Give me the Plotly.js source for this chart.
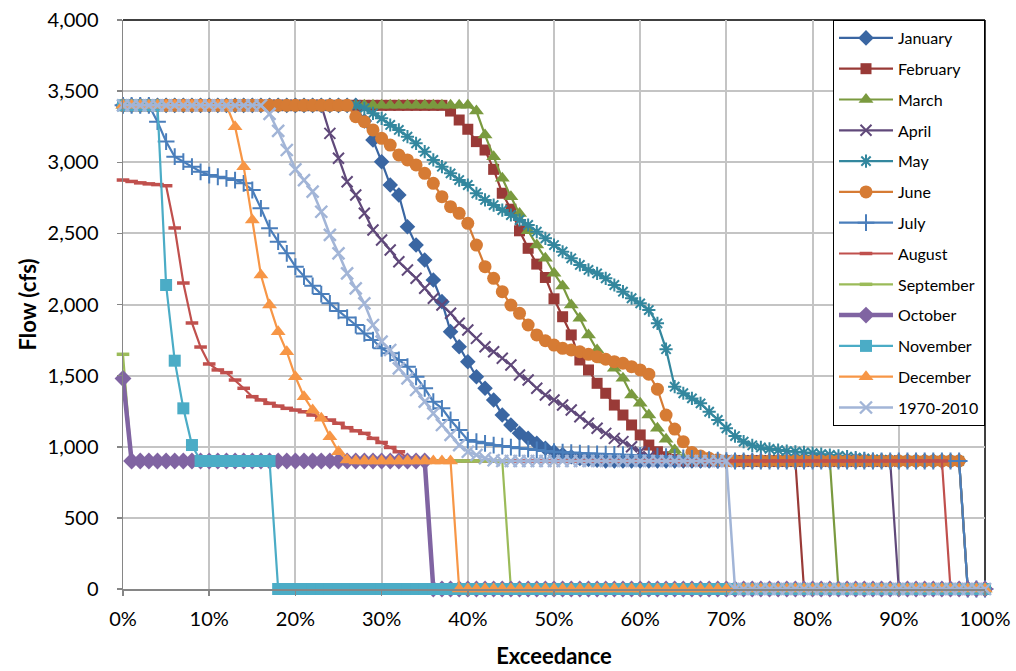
<!DOCTYPE html>
<html><head><meta charset="utf-8">
<script src="https://cdn.plot.ly/plotly-3.0.1.min.js"></script>
<style>html,body{margin:0;padding:0;background:#fff;}#chart{width:1016px;height:671px;}</style>
</head><body><div id="chart"></div>
<script>
// Exceedance (%) of each ranked point
const EXCEEDANCE = [0,1,2,3,4,5,6,7,8,9,10,11,12,13,14,15,16,17,18,19,20,21,22,23,24,25,26,27,28,29,30,31,32,33,34,35,36,37,38,39,40,41,42,43,44,45,46,47,48,49,50,51,52,53,54,55,56,57,58,59,60,61,62,63,64,65,66,67,68,69,70,71,72,73,74,75,76,77,78,79,80,81,82,83,84,85,86,87,88,89,90,91,92,93,94,95,96,97,98,99,100];

const JANUARY = [
3400,3400,3400,3400,3400,3400,3400,3400,3400,3400,
3400,3400,3400,3400,3400,3400,3400,3400,3400,3400,
3400,3400,3400,3400,3400,3400,3400,3400,3290,3156,
3004,2840,2770,2547,2418,2313,2172,2020,1809,1703,
1598,1492,1411,1329,1223,1153,1095,1059,1024,989,
965,945,930,918,910,905,900,900,900,900,
900,900,900,900,900,900,900,900,900,900,
900,900,900,900,900,900,900,900,900,900,
900,900,900,900,900,900,900,900,900,900,
900,900,900,900,900,900,900,900,0,0,
0];
const FEBRUARY = [
3400,3400,3400,3400,3400,3400,3400,3400,3400,3400,
3400,3400,3400,3400,3400,3400,3400,3400,3400,3400,
3400,3400,3400,3400,3400,3400,3400,3400,3400,3400,
3400,3400,3400,3400,3400,3400,3400,3400,3360,3297,
3232,3145,3086,2950,2782,2670,2518,2395,2284,2190,
2040,1914,1786,1610,1540,1446,1376,1293,1223,1153,
1083,1012,965,930,910,900,900,900,900,900,
900,900,900,900,900,900,900,900,900,0,
0,0,0,0,0,0,0,0,0,0,
0,0,0,0,0,0,0,0,0,0,
0];
const MARCH = [
3400,3400,3400,3400,3400,3400,3400,3400,3400,3400,
3400,3400,3400,3400,3400,3400,3400,3400,3400,3400,
3400,3400,3400,3400,3400,3400,3400,3400,3400,3400,
3400,3400,3400,3400,3400,3400,3400,3400,3400,3400,
3400,3360,3191,3039,2887,2758,2640,2518,2418,2325,
2220,2130,1996,1903,1786,1680,1610,1551,1481,1364,
1305,1223,1130,1053,977,919,900,900,900,900,
900,900,900,900,900,900,900,900,900,900,
900,900,900,0,0,0,0,0,0,0,
0,0,0,0,0,0,0,0,0,0,
0];
const APRIL = [
3400,3400,3400,3400,3400,3400,3400,3400,3400,3400,
3400,3400,3400,3400,3400,3400,3400,3400,3400,3400,
3400,3400,3400,3400,3203,3028,2863,2770,2641,2524,
2453,2383,2301,2243,2184,2114,2044,1996,1938,1868,
1821,1762,1703,1668,1622,1575,1504,1469,1411,1364,
1329,1293,1258,1211,1165,1130,1094,1059,1036,1000,
965,930,900,900,900,900,900,900,900,900,
900,900,900,900,900,900,900,900,900,900,
900,900,900,900,900,900,900,900,900,900,
0,0,0,0,0,0,0,0,0,0,
0];
const MAY = [
3400,3400,3400,3400,3400,3400,3400,3400,3400,3400,
3400,3400,3400,3400,3400,3400,3400,3400,3400,3400,
3400,3400,3400,3400,3400,3400,3400,3400,3379,3344,
3309,3262,3227,3180,3133,3074,3016,2969,2922,2875,
2840,2782,2735,2699,2664,2629,2594,2559,2512,2465,
2418,2371,2325,2278,2243,2219,2184,2137,2090,2044,
2008,1961,1868,1686,1422,1376,1340,1305,1246,1188,
1130,1075,1036,1010,995,985,977,970,965,960,
955,948,942,936,930,924,918,912,907,903,
900,900,900,900,900,900,900,900,0,0,
0];
const JUNE = [
3400,3400,3400,3400,3400,3400,3400,3400,3400,3400,
3400,3400,3400,3400,3400,3400,3400,3400,3400,3400,
3400,3400,3400,3400,3400,3400,3400,3320,3285,3227,
3168,3121,3051,3016,2981,2922,2852,2758,2688,2641,
2571,2418,2266,2184,2090,1996,1938,1856,1786,1745,
1715,1692,1680,1668,1650,1633,1615,1598,1587,1563,
1540,1510,1405,1223,1124,1036,960,935,919,908,
900,900,900,900,900,900,900,900,900,900,
900,900,900,900,900,900,900,900,900,900,
900,900,900,900,900,900,900,900,0,0,
0];
const JULY = [
3400,3400,3400,3400,3285,3145,3039,3004,2969,2933,
2910,2898,2887,2875,2852,2805,2676,2536,2442,2360,
2266,2196,2131,2073,2008,1955,1908,1856,1797,1750,
1692,1657,1610,1563,1492,1411,1317,1270,1188,1118,
1047,1036,1024,1012,1005,998,989,984,977,970,
965,962,958,955,952,950,948,946,944,942,
940,937,934,930,926,922,918,914,910,906,
903,900,900,900,900,900,900,900,900,900,
900,900,900,900,900,900,900,900,900,900,
900,900,900,900,900,900,900,900,0,0,
0];
const AUGUST = [
2875,2865,2855,2848,2843,2835,2538,2151,1870,1701,
1582,1540,1521,1469,1411,1352,1329,1305,1286,1270,
1258,1246,1223,1204,1188,1165,1134,1112,1094,1059,
1030,995,965,920,900,900,900,900,900,900,
900,900,900,900,900,900,900,900,900,900,
900,900,900,900,900,900,900,900,900,900,
900,900,900,900,900,900,900,900,900,900,
900,900,900,900,900,900,900,900,900,900,
900,900,900,900,900,900,900,900,900,900,
900,900,900,900,900,900,0,0,0,0,
0];
const SEPTEMBER = [
1650,900,900,900,900,900,900,900,900,900,
900,900,900,900,900,900,900,900,900,900,
900,900,900,900,900,900,900,900,900,900,
900,900,900,900,900,900,900,900,900,900,
900,900,900,900,900,0,0,0,0,0,
0,0,0,0,0,0,0,0,0,0,
0,0,0,0,0,0,0,0,0,0,
0,0,0,0,0,0,0,0,0,0,
0,0,0,0,0,0,0,0,0,0,
0,0,0,0,0,0,0,0,0,0,
0];
const OCTOBER = [
1480,900,900,900,900,900,900,900,900,900,
900,900,900,900,900,900,900,900,900,900,
900,900,900,900,900,900,900,900,900,900,
900,900,900,900,900,900,0,0,0,0,
0,0,0,0,0,0,0,0,0,0,
0,0,0,0,0,0,0,0,0,0,
0,0,0,0,0,0,0,0,0,0,
0,0,0,0,0,0,0,0,0,0,
0,0,0,0,0,0,0,0,0,0,
0,0,0,0,0,0,0,0,0,0,
0];
const NOVEMBER = [
3400,3400,3400,3400,3400,2137,1605,1270,1012,900,
900,900,900,900,900,900,900,900,0,0,
0,0,0,0,0,0,0,0,0,0,
0,0,0,0,0,0,0,0,0,0,
0,0,0,0,0,0,0,0,0,0,
0,0,0,0,0,0,0,0,0,0,
0,0,0,0,0,0,0,0,0,0,
0,0,0,0,0,0,0,0,0,0,
0,0,0,0,0,0,0,0,0,0,
0,0,0,0,0,0,0,0,0,0,
0];
const DECEMBER = [
3400,3400,3400,3400,3400,3400,3400,3400,3400,3400,
3400,3400,3400,3250,2969,2594,2207,1996,1809,1668,
1492,1352,1258,1200,1071,965,907,900,900,900,
900,900,900,900,900,900,900,900,900,0,
0,0,0,0,0,0,0,0,0,0,
0,0,0,0,0,0,0,0,0,0,
0,0,0,0,0,0,0,0,0,0,
0,0,0,0,0,0,0,0,0,0,
0,0,0,0,0,0,0,0,0,0,
0,0,0,0,0,0,0,0,0,0,
0];
const PERIOD_1970_2010 = [
3400,3400,3400,3400,3400,3400,3400,3400,3400,3400,
3400,3400,3400,3400,3400,3400,3400,3340,3220,3086,
2950,2875,2793,2652,2489,2360,2219,2114,2008,1856,
1739,1680,1551,1481,1399,1317,1235,1153,1083,1012,
965,942,919,905,900,900,900,900,900,900,
900,900,900,900,900,900,900,900,900,900,
900,900,900,900,900,900,900,900,900,900,
900,0,0,0,0,0,0,0,0,0,
0,0,0,0,0,0,0,0,0,0,
0,0,0,0,0,0,0,0,0,0,
0];

const SERIES_NAMES = ['January','February','March','April','May','June','July','August','September','October','November','December','1970-2010'];
const SERIES_VALUES = [JANUARY,FEBRUARY,MARCH,APRIL,MAY,JUNE,JULY,AUGUST,SEPTEMBER,OCTOBER,NOVEMBER,DECEMBER,PERIOD_1970_2010];

const STYLE = [
  {color:'#3A66A2', symbol:'diamond', size:12, width:2.2},
  {color:'#993A37', symbol:'square', size:11, width:2.2},
  {color:'#7A9A3F', symbol:'triangle-up', size:13, width:2.2},
  {color:'#60497A', symbol:'x-thin-open', size:11, width:2.2, mlw:2},
  {color:'#33879E', symbol:'asterisk-open', size:11, width:2.2, mlw:2},
  {color:'#D67B34', symbol:'circle', size:13, width:2.2},
  {color:'#4A7EBB', symbol:'cross-thin-open', size:12, width:2.2, mlw:2},
  {color:'#C0504D', symbol:'line-ew-open', size:9, width:2.2, mlw:3.5},
  {color:'#9BBB59', symbol:'line-ew-open', size:9, width:2.2, mlw:3.5},
  {color:'#8064A2', symbol:'diamond', size:13, width:4.5},
  {color:'#4BACC6', symbol:'square', size:12, width:2.2},
  {color:'#F79646', symbol:'triangle-up', size:13, width:2.2},
  {color:'#A2B5D7', symbol:'x-thin-open', size:12, width:2.5, mlw:2.4}
];

SERIES_VALUES.forEach((v,i)=>{ if(v.length!==EXCEEDANCE.length) console.error(SERIES_NAMES[i]+' length '+v.length); });

const traces = SERIES_NAMES.map((name,i)=>{
  const s = STYLE[i];
  return {
    type:'scatter', mode:'lines+markers', name:name, legendgroup:name,
    x:EXCEEDANCE, y:SERIES_VALUES[i], cliponaxis:false,
    line:{color:s.color, width:s.width},
    marker:{symbol:s.symbol, size:s.size, color:s.color,
            line:{color:s.color, width:(s.mlw||0)}}
  };
});

const axisFont = {family:'Lato, "Open Sans", sans-serif', size:20, color:'#000'};
const layout = {
  width:1016, height:671,
  margin:{l:123, r:31, t:20, b:82, pad:0},
  paper_bgcolor:'#ffffff', plot_bgcolor:'#ffffff',
  font:{family:'Lato, "Open Sans", sans-serif', color:'#000'},
  showlegend:true,
  xaxis:{range:[0,100], tick0:0, dtick:10, ticksuffix:'%', automargin:false,
    showgrid:true, gridcolor:'#c4c4c4', gridwidth:2, zeroline:false,
    showline:true, linecolor:'#868686', linewidth:1.5,
    ticks:'outside', ticklen:5, tickcolor:'#868686', tickwidth:1.5,
    ticklabelstandoff:6, tickfont:axisFont,
    title:{text:'<b>Exceedance</b>', font:{family:'Lato, sans-serif', size:22, color:'#000'}, standoff:20}},
  yaxis:{range:[0,4000], tick0:0, dtick:500, tickformat:',d', automargin:false,
    showgrid:true, gridcolor:'#c4c4c4', gridwidth:2, zeroline:false,
    showline:true, linecolor:'#868686', linewidth:1.5,
    ticks:'outside', ticklen:5, tickcolor:'#868686', tickwidth:1.5,
    ticklabelstandoff:14, tickfont:axisFont,
    title:{text:'<b>Flow (cfs)</b>', font:{family:'Lato, sans-serif', size:22, color:'#000'}, standoff:5}},
  legend:{x:1, xanchor:'right', y:1, yanchor:'top', bgcolor:'#ffffff',
    bordercolor:'#000000', borderwidth:1, itemwidth:54, tracegroupgap:7,
    font:{family:'Lato, sans-serif', size:16, color:'#000'}},
  shapes:[
    {type:'line', xref:'paper', yref:'paper', x0:0, x1:1, y0:1, y1:1, layer:'between', line:{color:'#000', width:1.5}},
    {type:'line', xref:'paper', yref:'paper', x0:1, x1:1, y0:0, y1:1, layer:'between', line:{color:'#000', width:1.5}}
  ]
};

Plotly.newPlot('chart', traces, layout, {displayModeBar:false, staticPlot:true});
</script>
</body></html>
